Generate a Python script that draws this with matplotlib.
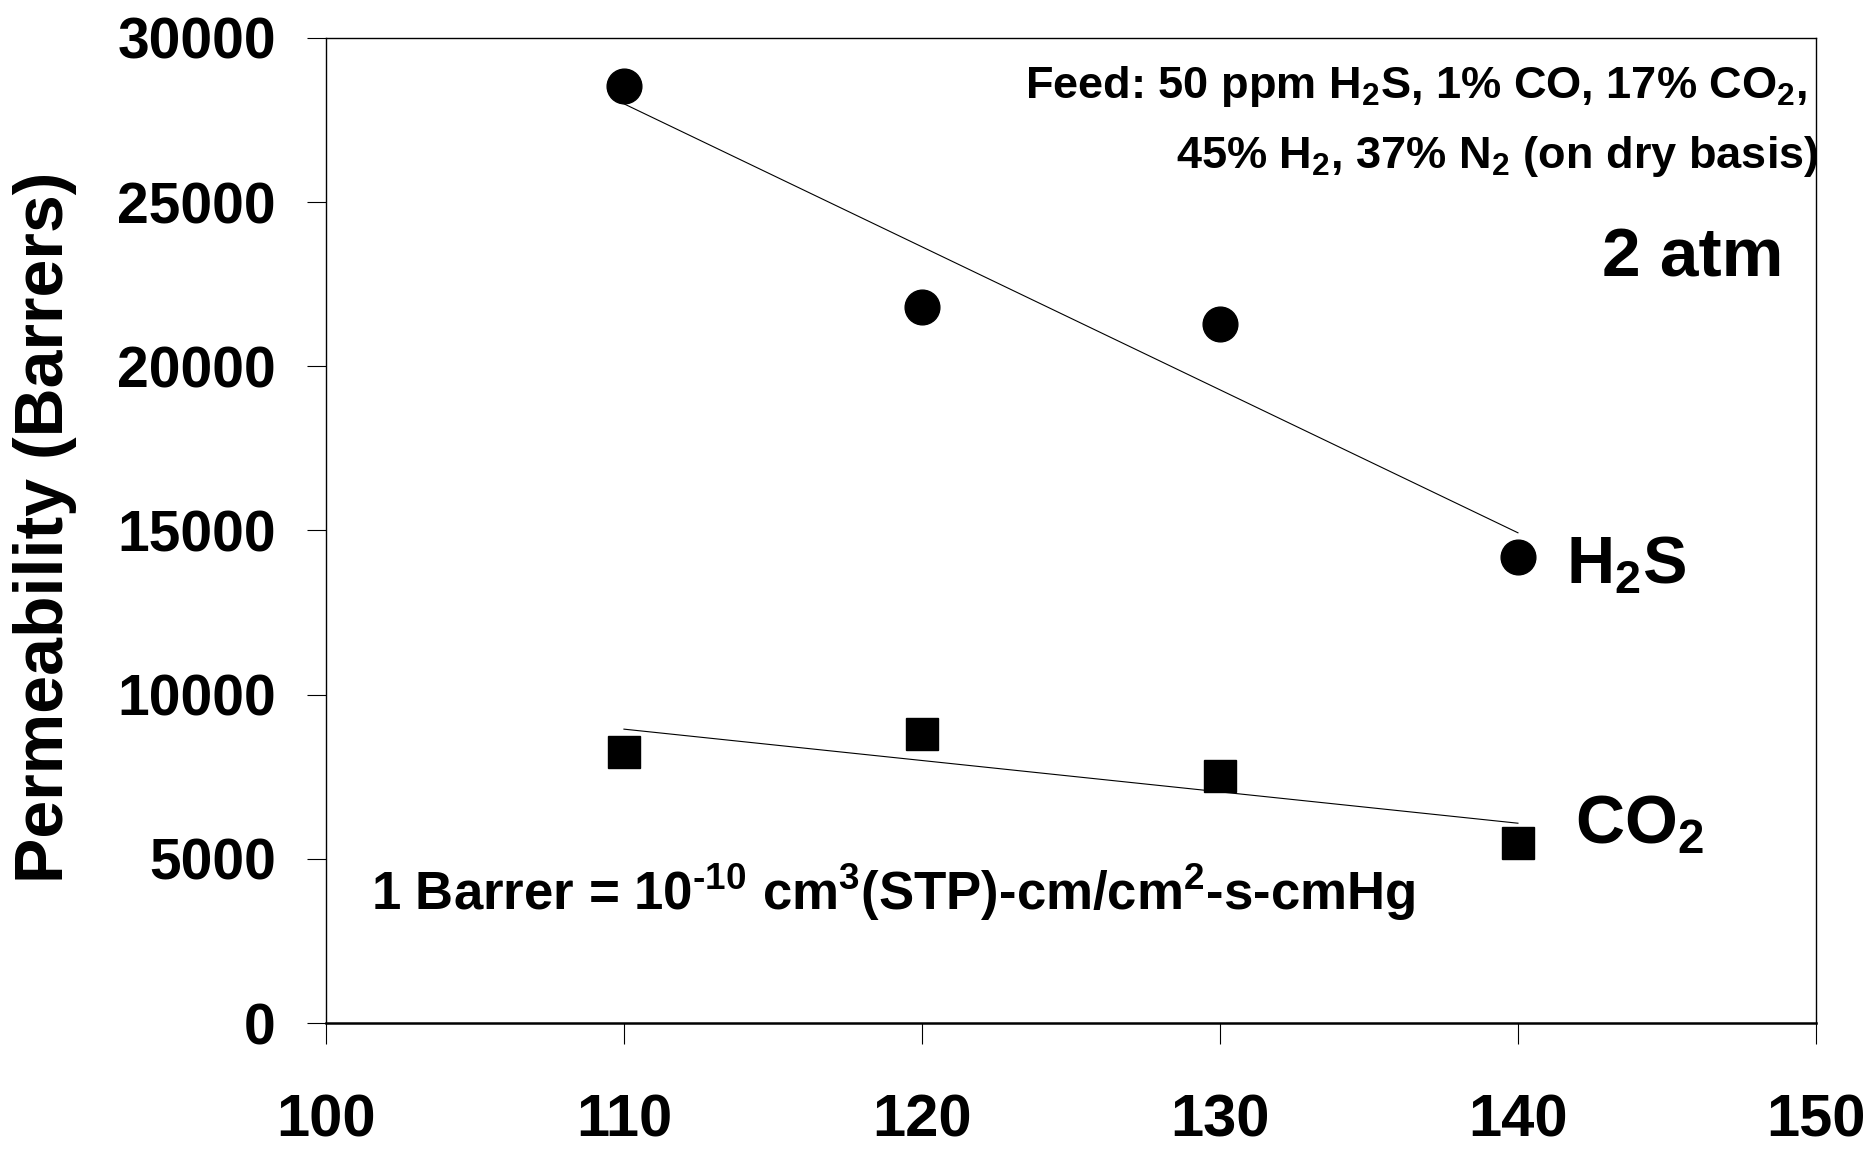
import matplotlib
matplotlib.use("Agg")
import matplotlib.pyplot as plt
import numpy as np

# temperature (C) and permeability (Barrers)
temps = [110, 120, 130, 140]
h2s_perm = [28550, 21800, 21300, 14200]
co2_perm = [8250, 8800, 7530, 5490]

xticks = [100, 110, 120, 130, 140, 150]
yticks = [0, 5000, 10000, 15000, 20000, 25000, 30000]

plt.rcParams['font.family'] = ['Liberation Sans', 'DejaVu Sans']
plt.rcParams['font.weight'] = 'bold'
plt.rcParams['mathtext.fontset'] = 'custom'
plt.rcParams['mathtext.rm'] = 'Liberation Sans:bold'
plt.rcParams['mathtext.it'] = 'Liberation Sans:bold'
plt.rcParams['mathtext.bf'] = 'Liberation Sans:bold'
plt.rcParams['mathtext.default'] = 'rm'

fig = plt.figure(figsize=(18.7, 11.51), dpi=100)
ax = fig.add_axes([0.1743, 0.1112, 0.7968, 0.8558])

ax.plot(temps, h2s_perm, 'o', color='black', ms=25, zorder=3)
ax.plot(temps, co2_perm, 's', color='black', ms=22.5, zorder=3)

# linear trendlines
for series in (h2s_perm, co2_perm):
    k, b = np.polyfit(temps, series, 1)
    xs = np.array([temps[0], temps[-1]])
    ax.plot(xs, k * xs + b, color='black', lw=0.8, zorder=2)

ax.set_xlim(100, 150)
ax.set_ylim(0, 30000)
ax.set_xticks(xticks)
ax.set_yticks(yticks)
ax.tick_params(axis='x', direction='out', length=15, width=0.8, pad=36,
               labelsize=43)
ax.tick_params(axis='y', direction='out', length=14, width=0.8, pad=22,
               labelsize=41)
for lab in ax.get_xticklabels() + ax.get_yticklabels():
    lab.set_fontweight('bold')

for side in ('left', 'top', 'right'):
    ax.spines[side].set_linewidth(1.0)
ax.spines['bottom'].set_linewidth(1.8)

fig.text(45 / 1870, 1 - 527 / 1151, 'Permeability (Barrers)', rotation=90,
         ha='center', va='center', fontsize=49, fontweight='bold')

ax.text(0.994, 0.939, r'Feed: 50 ppm H$_2$S, 1% CO, 17% CO$_2$,',
        transform=ax.transAxes, ha='right', va='baseline', fontsize=32.5,
        fontweight='bold')
ax.text(1.002, 0.868, r'45% H$_2$, 37% N$_2$ (on dry basis)',
        transform=ax.transAxes, ha='right', va='baseline', fontsize=32.5,
        fontweight='bold')
ax.text(0.978, 0.758, '2 atm', transform=ax.transAxes, ha='right',
        va='baseline', fontsize=50, fontweight='bold')
ax.text(0.832, 0.446, r'H$_2$S', transform=ax.transAxes, ha='left',
        va='baseline', fontsize=48, fontweight='bold')
ax.text(0.838, 0.183, r'CO$_2$', transform=ax.transAxes, ha='left',
        va='baseline', fontsize=49, fontweight='bold')
ax.text(0.030, 0.115,
        '1 Barrer = 10$^{\u201010}$ cm$^3$(STP)-cm/cm$^2$-s-cmHg',
        transform=ax.transAxes, ha='left', va='baseline', fontsize=38,
        fontweight='bold')

fig.savefig('out.png', dpi=100)
